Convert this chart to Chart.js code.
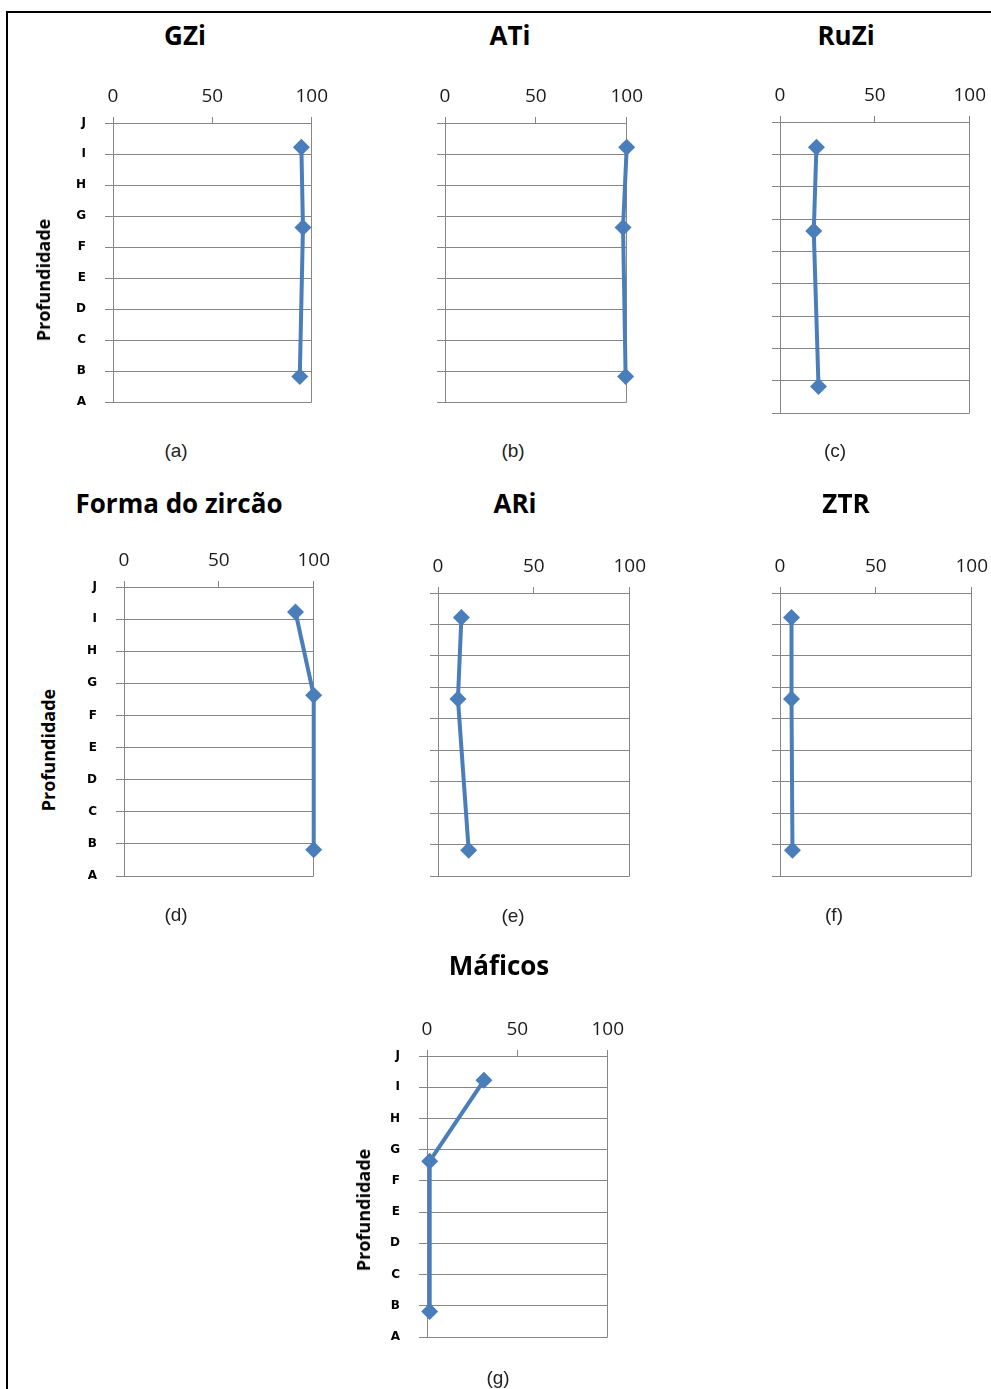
<!DOCTYPE html>
<html>
<head>
<meta charset="utf-8">
<script src="https://cdn.jsdelivr.net/npm/chart.js@4"></script>
<style>
  body { margin: 0; background: #fff; width: 991px; height: 1389px; position: relative; overflow: hidden; font-family: "Open Sans", sans-serif; }
  #frame { position: absolute; left: 6px; top: 11px; width: 1000px; height: 1400px; border-left: 2px solid #000; border-top: 2px solid #000; }
  .t { position: absolute; transform: translate(-50%, -50%); white-space: nowrap; color: #000; line-height: 1; }
  .title { font-weight: bold; font-size: 26px; }
  .cap { font-family: "Liberation Sans", Arial, sans-serif; font-size: 19px; color: #222; }
  .ax { font-weight: bold; font-size: 18px; transform: translate(-50%, -50%) rotate(-90deg); }
  canvas { position: absolute; }
</style>
</head>
<body>
<div id="frame"></div>
<script>
// Depth levels (bottom to top) and the x-axis ticks shared by every panel
const depthLabels = ['A', 'B', 'C', 'D', 'E', 'F', 'G', 'H', 'I', 'J'];
const xTicks = [0, 50, 100];
// Depth position of the three samples on the A..J scale
const sampleDepths = [8.22, 5.63, 0.82];

// Index values (%) for each sample, top to bottom
const gzi = [94.8, 95.6, 94.0];
const ati = [100, 98, 99.4];
const ruzi = [19.2, 17.8, 20.3];
const formaZircao = [90.4, 100, 100];
const ari = [12.2, 10.4, 16.0];
const ztr = [6, 6, 6.5];
const maficos = [31.5, 1.5, 1.5];

const GRID = '#868686';
const LINE = '#4A7EBB';
const AXW = 60, AXH = 45, PADR = 25, PADB = 32;

// Panel layout: plot box [left, top, right, bottom], title / caption / axis-title centres
const panels = [
  { values: gzi, title: 'GZi', caption: '(a)', box: [113, 123, 312, 402], letters: true, axisTitle: [43, 280], titleAt: [185, 35], capAt: [176, 450] },
  { values: ati, title: 'ATi', caption: '(b)', box: [445, 123, 627, 402], letters: false, titleAt: [510, 35], capAt: [513, 450] },
  { values: ruzi, title: 'RuZi', caption: '(c)', box: [780, 122, 970, 413], letters: false, titleAt: [846, 35], capAt: [835, 450] },
  { values: formaZircao, title: 'Forma do zircão', caption: '(d)', box: [124, 587, 314, 876], letters: true, axisTitle: [48, 750], titleAt: [179, 503], capAt: [176, 914] },
  { values: ari, title: 'ARi', caption: '(e)', box: [438, 593, 630, 876], letters: false, titleAt: [515, 503], capAt: [513, 915] },
  { values: ztr, title: 'ZTR', caption: '(f)', box: [780, 593, 972, 876], letters: false, titleAt: [846, 503], capAt: [834, 914] },
  { values: maficos, title: 'Máficos', caption: '(g)', box: [427, 1056, 608, 1337], letters: true, axisTitle: [363, 1210], titleAt: [499, 965], capAt: [498, 1377] }
];

function addText(cls, text, at) {
  const el = document.createElement('div');
  el.className = 't ' + cls;
  el.textContent = text;
  el.style.left = at[0] + 'px';
  el.style.top = at[1] + 'px';
  document.body.appendChild(el);
}

panels.forEach(p => {
  const [L, T, R, B] = p.box;
  const canvas = document.createElement('canvas');
  canvas.width = R - L + AXW + PADR;
  canvas.height = B - T + AXH + PADB;
  canvas.style.left = (L - AXW) + 'px';
  canvas.style.top = (T - AXH) + 'px';
  document.body.appendChild(canvas);

  addText('title', p.title, p.titleAt);
  addText('cap', p.caption, p.capAt);
  if (p.axisTitle) addText('ax', 'Profundidade', p.axisTitle);

  new Chart(canvas, {
    type: 'scatter',
    data: {
      datasets: [{
        data: sampleDepths.map((d, i) => ({ x: p.values[i], y: d })),
        showLine: true,
        borderColor: LINE,
        backgroundColor: LINE,
        borderWidth: 4,
        pointStyle: 'rectRot',
        pointRadius: 8.5,
        pointHoverRadius: 8.5,
        pointBorderWidth: 0,
        clip: false
      }]
    },
    options: {
      responsive: false,
      animation: false,
      events: [],
      layout: { padding: { left: 0, top: 0, right: PADR, bottom: PADB } },
      plugins: { legend: { display: false }, tooltip: { enabled: false } },
      scales: {
        x: {
          type: 'linear', position: 'top', min: 0, max: 100,
          afterBuildTicks: s => { s.ticks = xTicks.map(v => ({ value: v })); },
          afterFit: s => { s.height = AXH; },
          grid: {
            color: c => (c.tick && c.tick.value === 50) ? 'rgba(0,0,0,0)' : GRID,
            tickColor: GRID, tickLength: 6, lineWidth: 1
          },
          border: { color: GRID },
          ticks: { font: { family: 'Open Sans', size: 19 }, color: '#1b1b1b', padding: 9, maxRotation: 0 }
        },
        y: {
          type: 'linear', min: 0, max: 9,
          afterBuildTicks: s => { s.ticks = depthLabels.map((_, i) => ({ value: i })); },
          afterFit: s => { s.width = AXW; },
          grid: { color: GRID, tickColor: GRID, tickLength: 8, lineWidth: 1 },
          border: { color: GRID },
          ticks: {
            display: p.letters,
            callback: v => depthLabels[v],
            font: { family: 'DejaVu Sans', weight: 'bold', size: 12 },
            color: '#000', padding: 19
          }
        }
      }
    }
  });
});
</script>
</body>
</html>
